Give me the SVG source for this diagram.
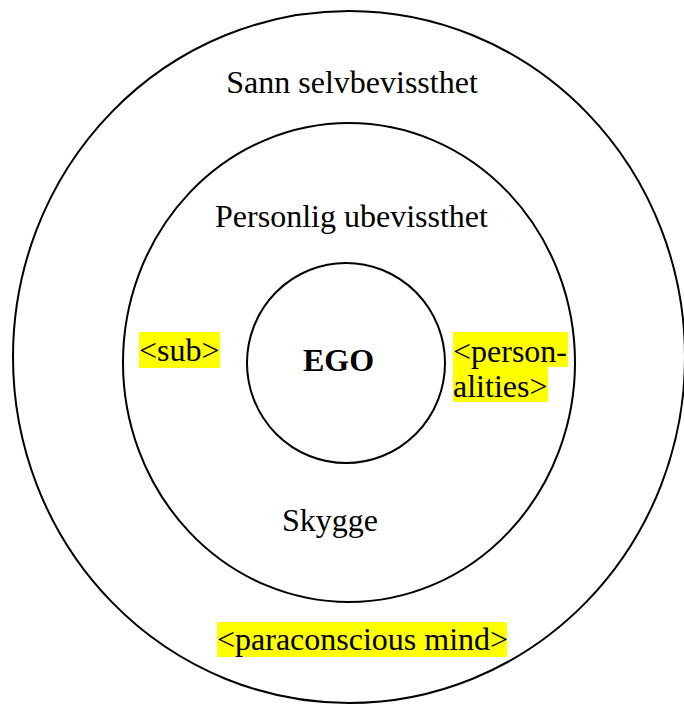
<svg xmlns="http://www.w3.org/2000/svg" width="684" height="705" viewBox="0 0 684 705">
  <style>
    .ring { fill: none; stroke: #000; stroke-width: 2; }
    .lbl { font-family: "Liberation Serif", "Times New Roman", serif; font-size: 32px; fill: #000; }
    .bold { font-weight: bold; }
    .hl { fill: #ffff00; }
  </style>
  <rect x="0" y="0" width="684" height="705" fill="#fff"/>

  <g id="outer">
    <ellipse class="ring" cx="349" cy="357" rx="336" ry="346"/>
    <text class="lbl" x="352" y="93" text-anchor="middle">Sann selvbevissthet</text>
    <rect class="hl" x="217" y="622" width="290" height="35"/>
    <text class="lbl" x="217" y="650">&lt;paraconscious mind&gt;</text>
  </g>

  <g id="middle">
    <ellipse class="ring" cx="349" cy="362.5" rx="226" ry="239.5"/>
    <text class="lbl" x="351.5" y="227" text-anchor="middle">Personlig ubevissthet</text>
    <text class="lbl" x="330" y="531" text-anchor="middle">Skygge</text>
    <rect class="hl" x="139" y="332" width="81" height="36"/>
    <text class="lbl" x="139" y="361">&lt;sub&gt;</text>
    <rect class="hl" x="453" y="332" width="115" height="35"/>
    <rect class="hl" x="453" y="367" width="95" height="35"/>
    <text class="lbl" x="453" y="362">&lt;person-</text>
    <text class="lbl" x="453" y="397">alities&gt;</text>
  </g>

  <g id="ego">
    <ellipse class="ring" cx="346" cy="363" rx="99" ry="100"/>
    <text class="lbl bold" x="338.5" y="371" text-anchor="middle">EGO</text>
  </g>

  <g id="connectors"/>
</svg>
